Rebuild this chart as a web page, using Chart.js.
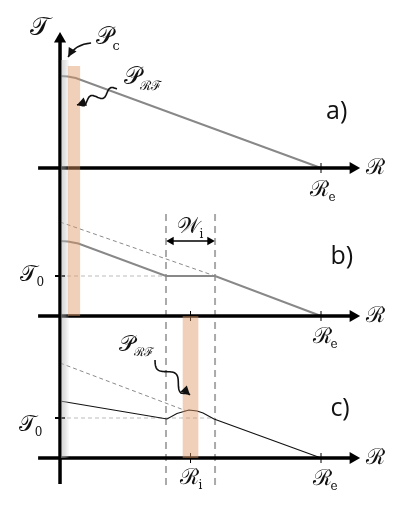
<!DOCTYPE html>
<html>
<head>
<meta charset="utf-8">
<script src="https://cdn.jsdelivr.net/npm/chart.js@4.4.0/dist/chart.umd.min.js"></script>
<style>
  html, body { margin: 0; padding: 0; background: #fff; }
</style>
</head>
<body>
<canvas id="profil" width="404" height="517"></canvas>
<script>
// rayon normalisé par R_e, température en unités de panneau
const rA = [0, 0.03, 0.06, 1];
const tA = [9.2, 9.15, 9.0, 0];

const rB = [0, 0.03, 0.07, 0.406, 0.594, 1];
const tB = [7.5, 7.45, 7.25, 4.0, 4.0, 0];
const rBguide = [0, 0.594];
const tBguide = [9.4, 4.0];

const rC = [0, 0.41, 0.448, 0.494, 0.525, 0.548, 0.59, 1];
const tC = [5.7, 3.9, 4.45, 4.8, 4.7, 4.5, 3.9, 0];
const rCguide = [0, 0.48];
const tCguide = [9.5, 4.75];

const T0 = 4.0;
const rInner = 0.406, rOuter = 0.594, rI = 0.5;
const panelNames = ['a)', 'b)', 'c)'];

// décalage vertical de chaque panneau (a, b, c)
const base = [34.9, 20.1, 5.9];

const pts = (rs, ts, off) => rs.map((r, i) => ({ x: r, y: off + ts[i] }));

const SCRIPT = '"DejaVu Serif", serif';

// zones chauffées (P_RF) et zone P_c
const heatBands = [
  { r0: 0.03, r1: 0.077, y0: base[1], y1: 45.1 },
  { r0: 0.47, r1: 0.53, y0: base[2], y1: base[1] }
];
const coolBand = { r0: 0.004, r1: 0.035, y0: base[2], y1: 45.7 };

const labels = [
  { t: '𝒯', r: -0.077, y: 48.9, s: 26 },
  { t: '𝒫', sub: 'c', r: 0.172, y: 47.9, s: 24 },
  { t: '𝒫', sub: 'ℛℱ', r: 0.276, y: 43.9, s: 24 },
  { t: 'ℛ', r: 1.207, y: base[0], s: 22 },
  { t: 'ℛ', sub: 'e', r: 0.996, y: 32.7, s: 22 },
  { t: '𝒲', sub: 'i', r: 0.494, y: 29.0, s: 22 },
  { t: '𝒯', sub: '0', r: -0.119, y: 24.2, s: 22 },
  { t: 'ℛ', r: 1.207, y: base[1], s: 22 },
  { t: 'ℛ', sub: 'e', r: 1.004, y: 18.0, s: 22 },
  { t: '𝒫', sub: 'ℛℱ', r: 0.257, y: 17.2, s: 22 },
  { t: '𝒯', sub: '0', r: -0.126, y: 9.2, s: 22 },
  { t: 'ℛ', r: 1.207, y: base[2], s: 22 },
  { t: 'ℛ', sub: 'e', r: 1.004, y: 3.8, s: 22 },
  { t: 'ℛ', sub: 'i', r: 0.498, y: 3.9, s: 22 }
];
const panelPos = [
  { r: 1.06, y: 40.5 },
  { r: 1.080, y: 26.0 },
  { r: 1.073, y: 10.8 }
];

function arrowHead(ctx, x, y, ang, size) {
  ctx.save();
  ctx.translate(x, y);
  ctx.rotate(ang);
  ctx.beginPath();
  ctx.moveTo(0, 0);
  ctx.lineTo(-size, -size * 0.5);
  ctx.lineTo(-size, size * 0.5);
  ctx.closePath();
  ctx.fill();
  ctx.restore();
}

function squiggle(ctx, x0, y0, x1, y1, waves, amp) {
  const dx = x1 - x0, dy = y1 - y0;
  const len = Math.hypot(dx, dy);
  const nx = -dy / len, ny = dx / len;
  ctx.beginPath();
  for (let i = 0; i <= 60; i++) {
    const f = i / 60;
    const damp = f > 0.85 ? (1 - f) / 0.15 : 1;
    const o = Math.sin(f * waves * 2 * Math.PI) * amp * damp;
    const px = x0 + dx * f + nx * o, py = y0 + dy * f + ny * o;
    if (i === 0) ctx.moveTo(px, py); else ctx.lineTo(px, py);
  }
  ctx.stroke();
  arrowHead(ctx, x1, y1, Math.atan2(dy, dx), 9);
}

const decor = {
  id: 'decor',
  afterDatasetsDraw(chart) {
    const { ctx, scales: { x, y } } = chart;
    ctx.save();
    // bande grise
    const gx0 = x.getPixelForValue(coolBand.r0), gx1 = x.getPixelForValue(coolBand.r1);
    const grad = ctx.createLinearGradient(gx0, 0, gx1, 0);
    grad.addColorStop(0, 'rgba(175,175,175,0.55)');
    grad.addColorStop(0.5, 'rgba(190,190,190,0.4)');
    grad.addColorStop(1, 'rgba(200,200,200,0.05)');
    ctx.fillStyle = grad;
    ctx.fillRect(gx0, y.getPixelForValue(coolBand.y1), gx1 - gx0,
      y.getPixelForValue(coolBand.y0) - y.getPixelForValue(coolBand.y1));
    // bandes chauffées
    ctx.fillStyle = 'rgba(222,150,100,0.45)';
    heatBands.forEach(b => {
      const x0 = x.getPixelForValue(b.r0), x1 = x.getPixelForValue(b.r1);
      const y0 = y.getPixelForValue(b.y1), y1 = y.getPixelForValue(b.y0);
      ctx.fillRect(x0, y0, x1 - x0, y1 - y0);
    });

    // flèches
    ctx.strokeStyle = '#111';
    ctx.fillStyle = '#111';
    ctx.lineWidth = 1.6;
    squiggle(ctx, x.getPixelForValue(0.218), y.getPixelForValue(42.8),
      x.getPixelForValue(0.065), y.getPixelForValue(41.2), 2, 3.5);
    squiggle(ctx, x.getPixelForValue(0.364), y.getPixelForValue(15.7),
      x.getPixelForValue(0.498), y.getPixelForValue(12.2), 1.5, 5);
    const ax = x.getPixelForValue(0.119), ay = y.getPixelForValue(47.4);
    const cx = x.getPixelForValue(0.06), cy = y.getPixelForValue(47.3);
    const bx = x.getPixelForValue(0.031), by = y.getPixelForValue(46.0);
    ctx.beginPath();
    ctx.moveTo(ax, ay);
    ctx.quadraticCurveTo(cx, cy, bx, by);
    ctx.stroke();
    arrowHead(ctx, bx, by, Math.atan2(by - cy, bx - cx), 9);

    // textes
    ctx.textBaseline = 'middle';
    labels.forEach(l => {
      const px = x.getPixelForValue(l.r), py = y.getPixelForValue(l.y);
      ctx.font = l.s + 'px ' + SCRIPT;
      ctx.textAlign = 'center';
      ctx.fillText(l.t, px, py);
      if (l.sub) {
        const w = ctx.measureText(l.t).width;
        ctx.font = Math.round(l.s * 0.55) + 'px ' + SCRIPT;
        ctx.textAlign = 'left';
        ctx.fillText(l.sub, px + w / 2 - 1, py + l.s * 0.35);
      }
    });
    ctx.font = '25px "Open Sans", sans-serif';
    ctx.textAlign = 'center';
    panelNames.forEach((n, i) => {
      ctx.fillText(n, x.getPixelForValue(panelPos[i].r), y.getPixelForValue(panelPos[i].y));
    });
    ctx.restore();
  }
};

const axisSet = off => ({
  data: [{ x: -0.084, y: off }, { x: 1.123, y: off }],
  showLine: true,
  borderColor: '#000',
  borderWidth: 3.5,
  pointStyle: 'triangle',
  pointRotation: 90,
  pointRadius: [0, 7],
  pointBackgroundColor: '#000',
  pointBorderWidth: 0,
  clip: false
});

const lineSet = (data, color, width, dash) => ({
  data,
  showLine: true,
  borderColor: color,
  borderWidth: width,
  borderDash: dash || [],
  pointRadius: 0,
  clip: false
});

new Chart(document.getElementById('profil'), {
  type: 'scatter',
  data: {
    datasets: [
      axisSet(base[0]),
      axisSet(base[1]),
      axisSet(base[2]),
      {
        data: [{ x: 0, y: 3.3 }, { x: 0, y: 47.8 }],
        showLine: true,
        borderColor: '#000',
        borderWidth: 3.5,
        pointStyle: 'triangle',
        pointRotation: 0,
        pointRadius: [0, 7],
        pointBackgroundColor: '#000',
        pointBorderWidth: 0,
        clip: false
      },
      // graduations R_e et R_i
      {
        data: [{ x: 1, y: base[0] }, { x: 1, y: base[1] }, { x: 1, y: base[2] },
               { x: rI, y: base[1] }, { x: rI, y: base[2] }],
        pointStyle: 'line', pointRotation: 90, pointRadius: 5,
        borderColor: '#000', borderWidth: 1
      },
      // graduations T0
      {
        data: [{ x: 0, y: base[1] + T0 }, { x: 0, y: base[2] + T0 }],
        pointStyle: 'line', pointRotation: 0, pointRadius: 5,
        borderColor: '#000', borderWidth: 2
      },
      // flèche W_i
      {
        data: [{ x: rInner + 0.02, y: 27.6 }, { x: rOuter - 0.02, y: 27.6 }],
        showLine: true,
        borderColor: '#000',
        borderWidth: 1.5,
        pointStyle: 'triangle',
        pointRotation: [270, 90],
        pointRadius: 5,
        pointBackgroundColor: '#000',
        pointBorderWidth: 0
      },
      lineSet(pts(rA, tA, base[0]), '#888', 2),
      lineSet(pts(rB, tB, base[1]), '#888', 2),
      lineSet(pts(rC, tC, base[2]), '#111', 1.1),
      lineSet(pts(rBguide, tBguide, base[1]), '#8a8a8a', 1, [4, 3]),
      lineSet(pts(rCguide, tCguide, base[2]), '#8a8a8a', 1, [4, 3]),
      lineSet([{ x: 0, y: base[1] + T0 }, { x: rInner, y: base[1] + T0 }], '#bbb', 1, [4, 3]),
      lineSet([{ x: 0, y: base[2] + T0 }, { x: rOuter, y: base[2] + T0 }], '#bbb', 1, [4, 3]),
      lineSet([{ x: rInner, y: 3.2 }, { x: rInner, y: 30.5 }], '#aaa', 2, [7, 5]),
      lineSet([{ x: rOuter, y: 3.2 }, { x: rOuter, y: 30.5 }], '#aaa', 2, [7, 5])
    ]
  },
  options: {
    responsive: false,
    animation: false,
    layout: { padding: 0, autoPadding: false },
    plugins: { legend: { display: false }, tooltip: { enabled: false } },
    scales: {
      x: { type: 'linear', min: -0.23, max: 1.318, display: false },
      y: { type: 'linear', min: 0, max: 51.7, display: false }
    }
  },
  plugins: [decor]
});
</script>
</body>
</html>
